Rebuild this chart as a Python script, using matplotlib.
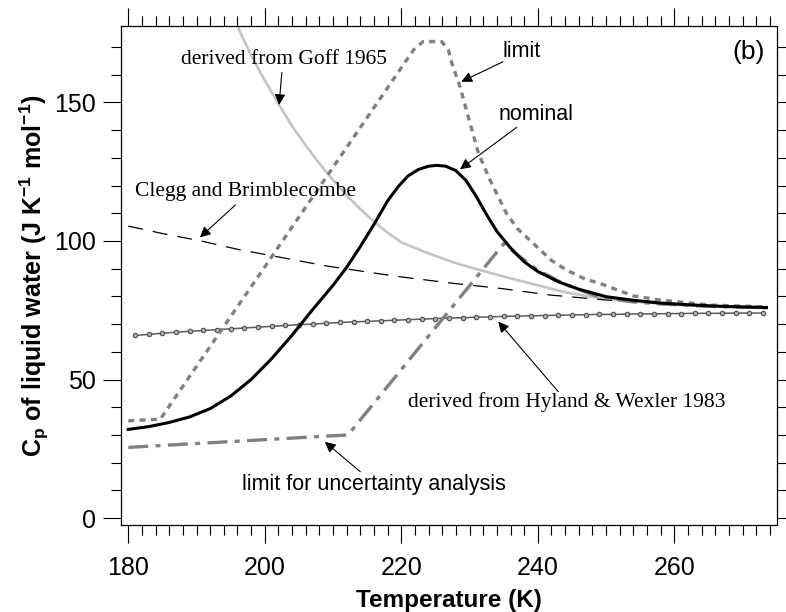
import numpy as np
import matplotlib
matplotlib.use('Agg')
import matplotlib.pyplot as plt
from matplotlib.ticker import MultipleLocator

# ---- data (T in K, Cp in J K-1 mol-1) ----
nominal_T = [180, 183, 186, 189, 192, 195, 198, 201, 204, 207, 210, 212, 214,
             216, 218, 219.5, 221, 222.5, 224, 225.2, 226.5, 228, 229.5, 231,
             232.5, 234, 236, 238, 240, 243, 246, 250, 254, 258, 262, 266,
             270, 273.5]
nominal_C = [32, 33, 34.5, 36.5, 39.5, 44, 50, 57.5, 66, 75.2, 84, 90.5, 98,
             106, 114.5, 119.5, 123.5, 125.8, 127, 127.3, 127, 125.4, 121.8, 116,
             109.5, 103.5, 97.5, 92.5, 89, 85.3, 82.6, 79.9, 78.6, 77.6, 77, 76.5,
             76.2, 76]

limit_T = [180, 184.7, 221.8, 223.2, 225.9, 226.9, 227.4, 228.6, 229.8, 231.3,
           233, 235.4, 237, 239.3, 242, 244.2, 247, 249.1, 254, 257.9, 265.2, 273.5]
limit_C = [35.1, 35.7, 169, 172, 172, 169, 164.2, 155.7, 144.9, 131.7,
           122, 110, 104.5, 99.2, 93, 89.5, 86.2, 84.7, 80.2, 78.7, 76.9, 76.2]

clegg_T = [180, 185, 190.5, 196, 202.3, 209, 216.4, 219.8, 228, 234.5, 241.8,
           250, 258, 266, 273.5]
clegg_C = [105.4, 102.7, 100.1, 97, 94.1, 91, 88.3, 87.1, 84.6, 82.9, 80.5,
           78.7, 77.4, 76.6, 76]

goff_T = [196.0, 198, 200, 202, 204, 206, 208, 210, 212, 214, 216, 218, 220,
          224, 228, 232, 236, 240, 244, 248, 252, 256, 260, 265, 273.5]
goff_C = [177.5, 167, 158, 149.5, 141.5, 134.5, 128, 122, 116.5, 111.5, 107,
          103, 99.5, 95.5, 92, 89.2, 86.5, 84, 81.5, 79.8, 78.6, 77.7, 77, 76.4,
          75.8]

hyland_T = [181, 183, 185, 187, 189, 191, 193, 195, 197, 199, 201, 203, 205,
            207, 209, 211, 213, 215, 217, 219, 221, 223, 225, 227, 229, 231,
            233, 235, 237, 239, 241, 243, 245, 247, 249, 251, 253, 255, 257,
            259, 261, 263, 265, 267, 269, 271, 273]
hyland_C = [65.9, 66.3, 66.7, 67.1, 67.4, 67.7, 68.0, 68.3, 68.6, 68.9, 69.2,
            69.5, 69.8, 70.0, 70.3, 70.6, 70.8, 71.0, 71.2, 71.4, 71.6, 71.8,
            72.0, 72.2, 72.3, 72.5, 72.6, 72.8, 72.9, 73.0, 73.1, 73.2, 73.3,
            73.4, 73.5, 73.5, 73.6, 73.7, 73.7, 73.8, 73.8, 73.9, 73.9, 73.9,
            74.0, 74.0, 74.0]

uncert_T = [180, 212.2, 235, 237, 240, 244, 249, 254, 258, 265, 273.5]
uncert_C = [25.5, 30, 99, 95, 89.5, 84.3, 79.8, 78, 77.3, 76.4, 75.9]

plt.rcParams['font.family'] = ['Liberation Sans', 'DejaVu Sans']
plt.rcParams['mathtext.fontset'] = 'custom'
plt.rcParams['mathtext.rm'] = 'Liberation Sans:bold'
plt.rcParams['mathtext.bf'] = 'Liberation Sans:bold'
plt.rcParams['mathtext.it'] = 'Liberation Sans:bold'

fig = plt.figure(figsize=(7.86, 6.12), dpi=100)
ax = fig.add_axes([0.1536, 0.1422, 0.8346, 0.8153])

grey = '#808080'
ax.plot(goff_T, goff_C, color='#c4c4c4', lw=1.9, zorder=2)
ax.plot(clegg_T, clegg_C, color='black', lw=0.9, linestyle=(0, (12, 8)), zorder=2)
ax.plot(hyland_T, hyland_C, color='#5a5a5a', lw=1.1, marker='o', ms=3.2,
        mfc='#b0b0b0', mec='#505050', mew=0.8, zorder=3)
ax.plot(uncert_T, uncert_C, color=grey, lw=2.4, linestyle=(0, (6, 2.2, 1.5, 2.2)),
        zorder=3)
ax.plot(limit_T, limit_C, color=grey, lw=2.4, linestyle=(0, (1.8, 1.6)), zorder=3)
ax.plot(nominal_T, nominal_C, color='black', lw=2.2, zorder=4)

ax.set_xlim(178.9, 275)
ax.set_ylim(-2.5, 177.6)
ax.xaxis.set_major_locator(MultipleLocator(20))
ax.xaxis.set_minor_locator(MultipleLocator(2))
ax.yaxis.set_major_locator(MultipleLocator(50))
ax.yaxis.set_minor_locator(MultipleLocator(10))
ax.tick_params(which='both', direction='out', top=True, right=True, width=0.8)
ax.tick_params(which='major', length=13, labelsize=18, pad=5)
ax.tick_params(axis='x', which='major', pad=9)
ax.tick_params(which='minor', length=7)
for s in ax.spines.values():
    s.set_linewidth(0.9)

ax.set_xlabel('Temperature (K)', fontsize=17.5, fontweight='bold', labelpad=7)
ax.set_ylabel(r'$\mathbf{C_p}$ of liquid water (J K$^{\mathbf{-1}}$ mol$^{\mathbf{-1}}$)',
              fontsize=18, fontweight='bold', labelpad=2)

serif = ['Liberation Serif', 'DejaVu Serif']
arrow = dict(arrowstyle='-|>', color='black', lw=0.8, mutation_scale=16,
             shrinkA=0, shrinkB=0)

ax.text(187.8, 165.6, 'derived from Goff 1965', family=serif, fontsize=15.5,
        va='center', ha='left')
ax.annotate('', xy=(202.1, 149.1), xytext=(202.5, 160.8), arrowprops=arrow)

ax.text(234.9, 168.3, 'limit', fontsize=15.5, va='center', ha='left')
ax.annotate('', xy=(228.8, 157.5), xytext=(234.9, 164.7), arrowprops=arrow)

ax.text(234.2, 145.5, 'nominal', fontsize=15.5, va='center', ha='left')
ax.annotate('', xy=(228.6, 125.9), xytext=(236.9, 141), arrowprops=arrow)

ax.text(181, 117.8, 'Clegg and Brimblecombe', family=serif, fontsize=15.5,
        va='center', ha='left')
ax.annotate('', xy=(190.5, 101.3), xytext=(195.7, 113), arrowprops=arrow)

ax.text(221, 42, 'derived from Hyland & Wexler 1983', family=serif, fontsize=15.5,
        va='center', ha='left')
ax.annotate('', xy=(234.2, 70.9), xytext=(243, 45.6), arrowprops=arrow)

ax.text(196.7, 12, 'limit for uncertainty analysis', fontsize=15.5,
        va='center', ha='left')
ax.annotate('', xy=(208.8, 27.5), xytext=(214, 16.7), arrowprops=arrow)

ax.text(273.3, 168.2, '(b)', fontsize=19, va='center', ha='right')

fig.savefig('out.png', dpi=100)
